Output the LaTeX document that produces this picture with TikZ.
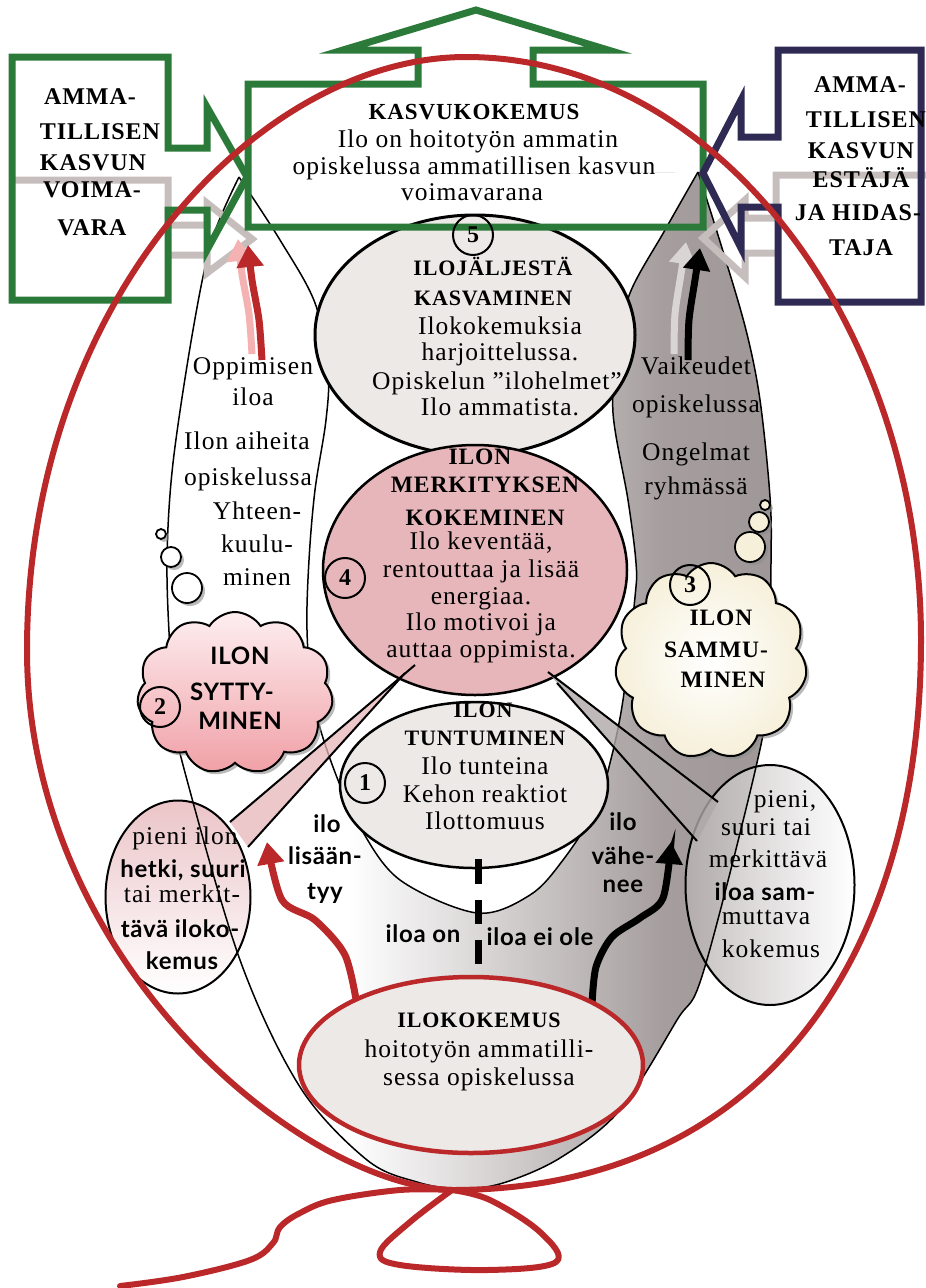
\documentclass[tikz,border=0pt]{standalone}
\usepackage{fontspec}
\setmainfont{Liberation Serif}[LetterSpace=4]
\newfontfamily\labfont{Lato}[LetterSpace=3]
\usetikzlibrary{shapes.geometric,shapes.symbols,shadows,arrows.meta}

\definecolor{kgreen}{RGB}{44,122,58}
\definecolor{knavy}{RGB}{46,42,84}
\definecolor{kred}{RGB}{186,40,42}
\definecolor{kshadow}{RGB}{198,190,188}
\definecolor{kband}{RGB}{166,158,158}
\definecolor{kspeck}{RGB}{236,233,231}
\definecolor{kpink}{RGB}{230,182,186}
\definecolor{kpinkhi}{RGB}{253,238,240}
\definecolor{kpinklo}{RGB}{240,160,166}
\definecolor{kcream}{RGB}{246,240,218}
\definecolor{kpale}{RGB}{245,178,178}
\definecolor{kghost}{RGB}{218,213,213}

\pgfdeclarehorizontalshading{vaseshade}{100bp}{color(0bp)=(white); color(40bp)=(white); color(66bp)=(kband); color(100bp)=(kband!85!black)}

\tikzset{
  vline/.style={draw=black, line width=1.5, line join=round},
  bigbox/.style={line width=7, line join=miter},
  ghost/.style={kshadow, line width=7, line join=miter},
  ringnum/.style={circle, draw=black, line width=2, minimum size=40, inner sep=0,
    font=\bfseries\fontsize{24}{24}\selectfont},
  tbody/.style={anchor=mid, inner sep=0, font=\fontsize{25.5}{27}\selectfont},
  thead/.style={anchor=mid, inner sep=0, font=\bfseries\fontsize{22}{27}\selectfont},
  theadM/.style={thead, font=\bfseries\fontsize{23.5}{27}\selectfont},
  theadL/.style={thead, font=\bfseries\fontsize{24}{27}\selectfont},
  tsans/.style={anchor=mid, inner sep=0, font=\labfont\bfseries\fontsize{24}{26}\selectfont},
  softshadow/.style={drop shadow={shadow xshift=3pt, shadow yshift=-3pt, fill=black!45, opacity=.6}},
  puff/.style={circle, draw=black, line width=1.8, fill=white, inner sep=0, softshadow},
  cloudy/.style={cloud, cloud puffs=11, cloud puff arc=115, cloud ignores aspect,
    draw=black, line width=2, inner sep=0, softshadow},
  speck/.style={ellipse, inner sep=0, fill=kspeck},
  bowarrow/.style={line width=7, line cap=butt, -{Triangle[length=22pt,width=26pt]}},
}

\begin{document}
\begin{tikzpicture}[x=1pt,y=-1pt]
\useasboundingbox (0,0) rectangle (926,1288);

% ---------- vase: two bands and the bowl ----------
\path[shading=vaseshade]
  plot[smooth, tension=0.55] coordinates {(239,177) (212,240) (193,330) (173,463) (167,560) (170,650) (176,720) (183,765) (240,960) (300,1087) (367,1160) (417,1182) (460,1189) (503,1183) (560,1158) (620,1110) (677,1020) (703,973) (756,767) (768,690) (771,563) (770,497) (760,400) (746,330) (722,248) (698,172)} -- cycle;
\path[fill=white]
  plot[smooth, tension=0.55] coordinates {(239,177) (280,240) (315,303) (328,370) (326,420) (315,490) (309,560) (307,630) (313,700) (333,767) (360,827) (400,880) (477,913) (530,895) (563,860) (595,810) (610,763) (623,700) (635,597) (636,563) (628,500) (613,413) (618,350) (630,293) (665,230) (698,172)} -- cycle;

% speech bubble fills, slightly see-through
\node[ellipse, minimum width=169, minimum height=240, inner sep=0,
  left color=kband!80, right color=white, fill opacity=.8] (rbfill) at (770,885) {};
\node[ellipse, minimum width=145, minimum height=193, inner sep=0,
  top color=kpink, bottom color=white, fill opacity=.8] (lbfill) at (178,897) {};

\draw[vline]
  plot[smooth, tension=0.55] coordinates {(239,177) (212,240) (193,330) (173,463) (167,560) (170,650) (176,720) (183,765) (240,960) (300,1087) (367,1160) (417,1182) (460,1189) (503,1183) (560,1158) (620,1110) (677,1020) (703,973) (756,767) (768,690) (771,563) (770,497) (760,400) (746,330) (722,248) (698,172)};
\draw[vline]
  plot[smooth, tension=0.55] coordinates {(239,177) (280,240) (315,303) (328,370) (326,420) (315,490) (309,560) (307,630) (313,700) (333,767) (360,827) (400,880) (477,913) (530,895) (563,860) (595,810) (610,763) (623,700) (635,597) (636,563) (628,500) (613,413) (618,350) (630,293) (665,230) (698,172)};

% speech bubble outlines
\node[ellipse, draw=black, line width=2, minimum width=169, minimum height=240, inner sep=0] (rb) at (770,885) {};
\node[ellipse, draw=black, line width=2, minimum width=145, minimum height=193, inner sep=0] (lb) at (178,897) {};

% ---------- grey ghost arrows ----------
\draw[ghost] (15,180) -- (168,180) -- (168,225) -- (207,225) -- (207,203) -- (252,239) -- (207,273) -- (207,255) -- (168,255);
\draw[ghost] (926,175) -- (776,175) -- (776,218) -- (745,218) -- (745,200) -- (703,238) -- (745,277) -- (745,253) -- (776,253);

% ---------- arrows in the bands ----------
\coordinate (pa0) at (252,354);
\coordinate (pa1) at (238,239);
\coordinate (ra0) at (262,360);
\coordinate (ra1) at (248,245);
\coordinate (ga0) at (674,354);
\coordinate (ga1) at (686,242);
\coordinate (ba0) at (688,360);
\coordinate (ba1) at (700,248);
\draw[kpale, bowarrow] plot[smooth] coordinates {(pa0) (249,314) (242,274) (pa1)};
\draw[kred, bowarrow] plot[smooth] coordinates {(ra0) (259,320) (252,280) (ra1)};
\draw[kghost, bowarrow] plot[smooth] coordinates {(ga0) (675,314) (681,274) (ga1)};
\draw[black, bowarrow] plot[smooth] coordinates {(ba0) (689,320) (695,280) (ba1)};

% ---------- ellipses 5 and 4 ----------
\node[speck, draw=black, line width=3, minimum width=320, minimum height=240] (e5) at (475,335) {};
\node[ellipse, inner sep=0, fill=kpink, draw=black, line width=2.5, minimum width=304, minimum height=250] (e4) at (475,570) {};

% ---------- boxes ----------
\draw[kgreen, bigbox] (248,84) -- (418,84) -- (418,50) -- (343,50) -- (476,10) -- (608,50) -- (533,50) -- (533,84) -- (703,84) -- (703,227) -- (248,227) -- cycle;
\draw[kgreen, bigbox] (12,57) -- (168,57) -- (168,148) -- (207,148) -- (207,107) -- (247,177) -- (207,250) -- (207,210) -- (168,210) -- (168,300) -- (12,300) -- cycle;
\draw[knavy, bigbox] (921,50) -- (778,50) -- (778,137) -- (741,137) -- (741,100) -- (703,173) -- (741,248) -- (741,207) -- (778,207) -- (778,302) -- (921,302) -- cycle;

% ---------- bubble tails ----------
\coordinate (lt0) at (415,665);
\coordinate (lt3) at (405,673);
\coordinate (lt1) at (230,822);
\coordinate (lt2) at (248,847);
\fill[kpink, fill opacity=.75] (lt1) -- (lt0) -- (lt3) -- (lt2) -- cycle;
\draw[black, line width=2] (lt1) -- (lt0);
\draw[black, line width=2] (lt2) -- (lt3);
\coordinate (rt0) at (548,672);
\coordinate (rt3) at (557,683);
\coordinate (rt1) at (718,802);
\coordinate (rt2) at (697,841);
\fill[kband!90, fill opacity=.8] (rt0) -- (rt1) -- (rt2) -- (rt3) -- cycle;
\draw[black, line width=2] (rt0) -- (rt1);
\draw[black, line width=2] (rt3) -- (rt2);

% ---------- ellipse 1 ----------
\node[speck, draw=black, line width=2.5, minimum width=268, minimum height=166] (e1) at (474,785) {};

% ---------- clouds and thought puffs ----------
\node[puff, minimum size=10] (lp1) at (161,534) {};
\node[puff, minimum size=20] (lp2) at (171,557) {};
\node[puff, minimum size=30] (lp3) at (187,588) {};
\node[cloudy, minimum width=196, minimum height=162, top color=kpinkhi, bottom color=kpinklo] (c2) at (235,693) {};
\node[puff, minimum size=10, fill=kcream] (rp1) at (765,505) {};
\node[puff, minimum size=20, fill=kcream] (rp2) at (759,522) {};
\node[puff, minimum size=30, fill=kcream] (rp3) at (750,547) {};
\node[cloudy, minimum width=192, minimum height=196, inner color=white, outer color=kcream] (c3) at (711,661) {};

% ---------- numbered rings ----------
\node[ringnum] (n1) at (365,783) {1};
\node[ringnum] (n2) at (160,707) {2};
\node[ringnum] (n3) at (690,585) {3};
\node[ringnum] (n4) at (345,578) {4};
\node[ringnum] (n5) at (473,235) {5};

% ---------- arrows in the bowl ----------
\coordinate (la0) at (357,1005);
\coordinate (la1) at (267,842);
\coordinate (da0) at (592,1005);
\coordinate (da1) at (671,842);
\draw[kred, bowarrow] plot[smooth] coordinates {(la0) (345,955) (315,920) (282,900) (la1)};
\draw[black, bowarrow] plot[smooth] coordinates {(da0) (596,967) (612,937) (640,918) (663,898) (da1)};

% ---------- bottom ellipse ----------
\node[speck, draw=kred, line width=4.5, minimum width=344, minimum height=176] (ilo) at (471,1065) {};

% ---------- dashes ----------
\node[fill=black, inner sep=0, minimum width=7, minimum height=25] (d1) at (478,871) {};
\node[fill=black, inner sep=0, minimum width=7, minimum height=24] (d2) at (478,912) {};
\node[fill=black, inner sep=0, minimum width=7, minimum height=24] (d3) at (478,952) {};

% ---------- texts ----------
\node[thead, font=\bfseries\fontsize{23}{27}\selectfont] (k1) at (474,117) {KASVUKOKEMUS};
\node[tbody] (k2) at (478,145) {Ilo on hoitotyön ammatin};
\node[tbody] (k3) at (474,172) {opiskelussa ammatillisen kasvun};
\node[tbody] (k4) at (472,198) {voimavarana};

\node[theadL] (v1) at (90,102) {AMMA-};
\node[theadL] (v2) at (100,137) {TILLISEN};
\node[theadL] (v3) at (93,168) {KASVUN};
\node[theadL] (v4) at (92,195) {VOIMA-};
\node[theadL] (v5) at (92,233) {VARA};

\node[theadL] (h1) at (860,90) {AMMA-};
\node[theadL] (h2) at (866,125) {TILLISEN};
\node[theadL] (h3) at (861,156) {KASVUN};
\node[theadL] (h4) at (861,185) {ESTÄJÄ};
\node[theadL] (h5) at (858,218) {JA HIDAS-};
\node[theadL] (h6) at (861,253) {TAJA};

\node[thead] (f1) at (493,273) {ILOJÄLJESTÄ};
\node[thead] (f2) at (493,303) {KASVAMINEN};
\node[tbody] (f3) at (500,332) {Ilokokemuksia};
\node[tbody] (f4) at (500,358) {harjoittelussa.};
\node[tbody] (f5) at (497,387) {Opiskelun ”ilohelmet”};
\node[tbody] (f6) at (500,413) {Ilo ammatista.};

\node[theadM] (m1) at (480,462) {ILON};
\node[theadM] (m2) at (485,490) {MERKITYKSEN};
\node[theadM] (m3) at (485,523) {KOKEMINEN};
\node[tbody] (m4) at (481,547) {Ilo keventää,};
\node[tbody] (m5) at (481,575) {rentouttaa ja lisää};
\node[tbody] (m6) at (481,602) {energiaa.};
\node[tbody] (m7) at (481,628) {Ilo motivoi ja};
\node[tbody] (m8) at (481,655) {auttaa oppimista.};

\node[thead] (u1) at (483,715) {ILON};
\node[thead] (u2) at (485,743) {TUNTUMINEN};
\node[tbody] (u3) at (485,772) {Ilo tunteina};
\node[tbody] (u4) at (485,800) {Kehon reaktiot};
\node[tbody] (u5) at (485,827) {Ilottomuus};

\node[tbody] (a1) at (253,372) {Oppimisen};
\node[tbody] (a2) at (253,403) {iloa};
\node[tbody] (a3) at (247,447) {Ilon aiheita};
\node[tbody] (a4) at (248,483) {opiskelussa};
\node[tbody] (a5) at (257,517) {Yhteen-};
\node[tbody] (a6) at (257,550) {kuulu-};
\node[tbody] (a7) at (257,583) {minen};

\node[tbody] (g1) at (696,372) {Vaikeudet};
\node[tbody] (g2) at (696,410) {opiskelussa};
\node[tbody] (g3) at (696,458) {Ongelmat};
\node[tbody] (g4) at (696,492) {ryhmässä};

\node[tsans] (s1) at (240,662) {ILON};
\node[tsans] (s2) at (232,698) {SYTTY-};
\node[tsans] (s3) at (240,727) {MINEN};

\node[theadM] (q1) at (721,623) {ILON};
\node[theadM] (q2) at (716,655) {SAMMU-};
\node[theadM] (q3) at (723,685) {MINEN};

\node[tbody] (p1) at (185,842) {pieni ilon};
\node[tsans] (p2) at (183,875) {hetki, suuri};
\node[tbody] (p3) at (182,900) {tai merkit-};
\node[tsans] (p4) at (180,935) {tävä iloko-};
\node[tsans] (p5) at (182,967) {kemus};

\node[tbody] (r1) at (785,805) {pieni,};
\node[tbody] (r2) at (766,833) {suuri tai};
\node[tbody] (r3) at (768,865) {merkittävä};
\node[tsans] (r4) at (765,898) {iloa sam-};
\node[tbody] (r5) at (766,922) {muttava};
\node[tbody] (r6) at (771,955) {kokemus};

\node[tsans] (w1) at (327,830) {ilo};
\node[tsans] (w2) at (325,862) {lisään-};
\node[tsans] (w3) at (325,897) {tyy};
\node[tsans] (x1) at (623,828) {ilo};
\node[tsans] (x2) at (623,862) {vähe-};
\node[tsans] (x3) at (623,890) {nee};
\node[tsans] (y1) at (423,940) {iloa on};
\node[tsans] (y2) at (540,943) {iloa ei ole};

\node[thead] (o1) at (479,1025) {ILOKOKEMUS};
\node[tbody] (o2) at (479,1055) {hoitotyön ammatilli-};
\node[tbody] (o3) at (479,1083) {sessa opiskelussa};

% ---------- red balloon and its string ----------
\draw[kred, line width=6] (466,57) .. controls (720,57) and (921,330) .. (921,640)
  .. controls (921,960) and (760,1190) .. (452,1190)
  .. controls (300,1185) and (27,960) .. (27,650)
  .. controls (27,300) and (260,57) .. (466,57) -- cycle;
\draw[kred, line width=6, line cap=round] plot[smooth, tension=0.6] coordinates {(452,1190) (400,1190) (333,1200) (300,1213) (280,1227) (273,1243) (250,1260) (183,1277) (120,1286)};
\draw[kred, line width=6, line join=round] plot[smooth, tension=0.6] coordinates {(452,1190) (410,1222) (380,1252) (400,1265) (487,1270) (556,1262) (540,1232) (490,1200) (452,1190)};
\end{tikzpicture}
\end{document}
